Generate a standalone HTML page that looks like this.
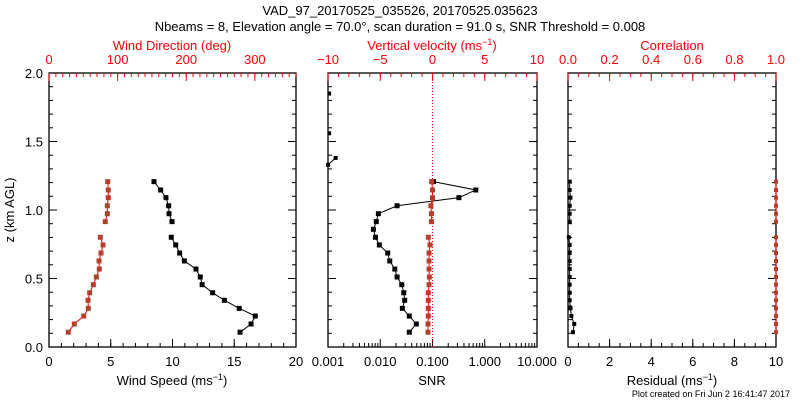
<!DOCTYPE html>
<html><head><meta charset="utf-8"><style>
body{margin:0;background:#fff}
svg{display:block;font-family:"Liberation Sans",sans-serif}
</style></head><body>
<svg id="c" width="800" height="400" viewBox="0 0 800 400">
<text x="400" y="15" text-anchor="middle" font-size="13">VAD_97_20170525_035526, 20170525.035623</text>
<text x="400" y="31" text-anchor="middle" font-size="13">Nbeams = 8, Elevation angle = 70.0°, scan duration = 91.0 s, SNR Threshold = 0.008</text>
<text x="14" y="210" text-anchor="middle" font-size="13" transform="rotate(-90 14 210)">z (km AGL)</text>
<text x="790" y="397" text-anchor="end" font-size="9">Plot created on Fri Jun  2 16:41:47 2017</text>
</svg>
<script>
// heights (km)
const zUp=[1.207,1.146,1.09,1.031,0.973,0.915];
const zLow=[0.801,0.745,0.686,0.628,0.569,0.511,0.455,0.396,0.341,0.282,0.226,0.168,0.108];
const zAll=[1.207,1.146,1.09,1.031,0.973,0.915,0.859,0.801,0.745,0.686,0.628,0.569,0.511,0.455,0.396,0.341,0.282,0.226,0.168,0.108];
// wind speed (m/s)
const speedUp=[8.5,9.04,9.47,9.69,9.72,9.96];
const speedLow=[9.9,10.26,10.58,10.96,11.9,12.25,12.4,13.25,14.2,15.4,16.7,16.36,15.47];
// wind direction (deg)
const dirUp=[85.6,86.4,86.4,85,85,82];
const dirLow=[74.8,78.7,75.8,72.9,73.3,69,64.6,59.3,56.9,57.3,50.6,36.9,28.1];
// SNR
const snrAll=[0.104,0.675,0.32,0.021,0.0092,0.0084,0.0074,0.0081,0.0096,0.0139,0.0152,0.019,0.021,0.0258,0.0282,0.0294,0.0265,0.036,0.049,0.036];
const zSnrHigh=[1.85,1.56,1.38,1.33];
const snrHigh=[0.00105,0.00105,0.0014,0.001];
// vertical velocity (m/s)
const wUp=[-0.08,0,0,-0.15,-0.1,-0.1];
const wLow=[-0.4,-0.24,-0.33,-0.33,-0.33,-0.3,-0.33,-0.4,-0.4,-0.4,-0.4,-0.43,-0.43];
// residual & correlation
const resUp=[0.08,0.08,0.12,0.08,0.08,0.08];
const resLow=[0.04,0.08,0.08,0.08,0.08,0.08,0.08,0.08,0.08,0.12,0.16,0.3,0.24];
const corrUp=[1,1,1,1,1,1];
const corrLow=[1,1,1,1,1,1,1,1,1,1,1,1,1];

const svg=document.getElementById('c');
const NS='http://www.w3.org/2000/svg';
const Y0=347,Y1=73;
const yS=z=>Y0-(z/2)*(Y0-Y1);
function mk(t,a){const e=document.createElementNS(NS,t);for(const k in a)e.setAttribute(k,a[k]);svg.appendChild(e);return e;}
function lin(d0,d1,p0,p1){return v=>p0+(v-d0)/(d1-d0)*(p1-p0);}
function lg(d0,d1,p0,p1){return v=>p0+(Math.log10(v)-Math.log10(d0))/(Math.log10(d1)-Math.log10(d0))*(p1-p0);}

function frame(x0,x1,name){
  const r=mk('rect',{x:x0,y:Y1,width:x1-x0,height:Y0-Y1,fill:'none',stroke:'#000','stroke-width':1.3});
  
  
  for(let z=0;z<=2.0001;z+=0.1){
    const y=yS(z),maj=Math.abs(z*2-Math.round(z*2))<1e-6,l=maj?8:4;
    mk('line',{x1:x0,x2:x0+l,y1:y,y2:y,stroke:'#000'});
    mk('line',{x1:x1,x2:x1-l,y1:y,y2:y,stroke:'#000'});
  }
}
function xTicks(sc,majors,minors,y,dir,color,labels,ly,name){
  minors.forEach(v=>mk('line',{x1:sc(v),x2:sc(v),y1:y,y2:y+dir*4,stroke:color}));
  majors.forEach((v,i)=>{
    mk('line',{x1:sc(v),x2:sc(v),y1:y,y2:y+dir*8,stroke:color});
    const t=mk('text',{x:sc(v),y:ly,'text-anchor':'middle','font-size':13,fill:color});
    t.textContent=labels[i];
    
    
  });
}
function range(a,b,s){const r=[];for(let v=a;v<=b+1e-9;v+=s)r.push(+v.toFixed(6));return r;}
function series(xs,zs,sc,col,mcol,name,ms){
  const pts=xs.map((v,i)=>[sc(v),yS(zs[i])]);
  const p=mk('polyline',{points:pts.map(p=>p.join(',')).join(' '),fill:'none',stroke:col,'stroke-width':1});
  
  
  pts.forEach(q=>{
    const r=mk('rect',{x:q[0]-ms/2,y:q[1]-ms/2,width:ms,height:ms,fill:mcol});
    
    
  });
}
function label(x,y,txt,col,name,sup){
  const t=mk('text',{x:x,y:y,'text-anchor':'middle','font-size':13,fill:col});
  
  
  t.textContent=txt;
  if(sup){const s=document.createElementNS(NS,'tspan');s.setAttribute('dy','-5');s.setAttribute('font-size','9');s.textContent=sup;t.appendChild(s);
    const e=document.createElementNS(NS,'tspan');e.setAttribute('dy','5');e.textContent=')';t.appendChild(e);}
}
const RED='#ff0000',MRK='#b4402c';

// Panel 1
const sx=lin(0,20,49,296), dx=lin(0,360,49,296);
frame(49,296,'wind-panel');
xTicks(sx,[0,5,10,15,20],range(0,20,1),Y0,-1,'#000',['0','5','10','15','20'],366,'wind-speed');
xTicks(dx,[0,100,200,300],range(0,360,10),Y1,1,RED,['0','100','200','300'],64,'wind-direction');
[0,0.5,1,1.5,2].forEach(z=>{const t=mk('text',{x:43,y:yS(z)+5,'text-anchor':'end','font-size':13});t.textContent=z.toFixed(1);
  
  });
label(172,385,'Wind Speed (ms','#000','x-axis-title-wind-speed','−1');
label(172,50,'Wind Direction (deg)',RED,'x-axis-title-wind-direction');
series(speedUp,zUp,sx,'#000','#000','wind-speed-upper',5);
series(speedLow,zLow,sx,'#000','#000','wind-speed-lower',5);
series(dirUp,zUp,dx,RED,MRK,'wind-direction-upper',5);
series(dirLow,zLow,dx,RED,MRK,'wind-direction-lower',5);

// Panel 2
const nx=lg(0.001,10,328,537), wx=lin(-10,10,328,537);
frame(328,537,'snr-panel');
const logMin=[];for(let d=-3;d<1;d++)for(let m=2;m<10;m++)logMin.push(m*Math.pow(10,d));
xTicks(nx,[0.001,0.01,0.1,1,10],logMin,Y0,-1,'#000',['0.001','0.010','0.100','1.000','10.000'],366,'snr');
xTicks(wx,[-10,-5,0,5,10],range(-10,10,1),Y1,1,RED,['−10','−5','0','5','10'],64,'vertical-velocity');
const dl=mk('line',{x1:wx(0),x2:wx(0),y1:Y1,y2:Y0,stroke:RED,'stroke-dasharray':'1,2'});


label(432,385,'SNR','#000','x-axis-title-snr');
label(432,50,'Vertical velocity (ms',RED,'x-axis-title-vertical-velocity','−1');
series(snrAll,zAll,nx,'#000','#000','snr',5);
series(snrHigh.slice(2),zSnrHigh.slice(2),nx,'#000','#000','snr-high',4);
[0,1].forEach(i=>{const q=mk('rect',{x:nx(snrHigh[i])-1,y:yS(zSnrHigh[i])-2,width:3,height:4,fill:'#000'});
  
  });
series(wUp,zUp,wx,RED,MRK,'vertical-velocity-upper',5);
series(wLow,zLow,wx,RED,MRK,'vertical-velocity-lower',5);

// Panel 3
const rx=lin(0,10,568,776), cx=lin(0,1,568,776);
frame(568,776,'residual-panel');
xTicks(rx,[0,2,4,6,8,10],range(0,10,0.5),Y0,-1,'#000',['0','2','4','6','8','10'],366,'residual');
xTicks(cx,[0,0.2,0.4,0.6,0.8,1],range(0,1,0.05),Y1,1,RED,['0.0','0.2','0.4','0.6','0.8','1.0'],64,'correlation');
label(672,385,'Residual (ms','#000','x-axis-title-residual','−1');
label(672,50,'Correlation',RED,'x-axis-title-correlation');
series(resUp,zUp,rx,'#000','#000','residual-upper',4);
series(resLow,zLow,rx,'#000','#000','residual-lower',4);
series(corrUp,zUp,cx,RED,MRK,'correlation-upper',4);
series(corrLow,zLow,cx,RED,MRK,'correlation-lower',4);
</script>
</body></html>
